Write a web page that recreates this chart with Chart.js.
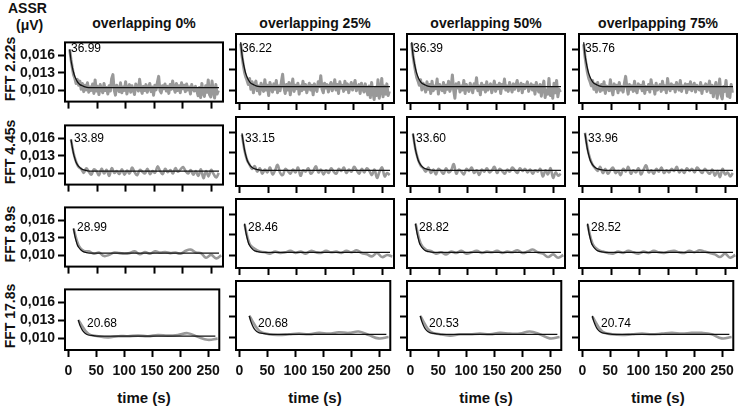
<!DOCTYPE html>
<html>
<head>
<meta charset="utf-8">
<script src="https://cdn.jsdelivr.net/npm/chart.js@4/dist/chart.umd.min.js"></script>
<style>
  body { margin: 0; width: 740px; height: 409px; position: relative; background: #fff; overflow: hidden;
         font-family: "Liberation Sans", Arial, sans-serif; color: #111; }
  .t { position: absolute; font-weight: bold; font-size: 14px; white-space: nowrap; line-height: 16px; }
  .fit { position: absolute; font-size: 12px; white-space: nowrap; line-height: 14px; color: #000; }
  canvas { position: absolute; }
</style>
</head>
<body>
<script>
// column / row headings
const columns = ['overlapping 0%', 'overlapping 25%', 'overlapping 50%', 'overlpapping 75%'];
const rowNames = ['FFT 2.22s', 'FFT 4.45s', 'FFT 8.9s', 'FFT 17.8s'];
const windows = [2.22, 4.45, 8.9, 17.8];          // s between successive ASSR estimates
const fitLabels = [
  ['36.99', '36.22', '36.39', '35.76'],
  ['33.89', '33.15', '33.60', '33.96'],
  ['28.99', '28.46', '28.82', '28.52'],
  ['20.68', '20.68', '20.53', '20.74'],
];
const xTicks = [0, 50, 100, 150, 200, 250];
const yTicks = [0.010, 0.013, 0.016];

// fitted decay curves, [time, µV]
const fitRow1 = [[2.2,0.0170],[4.4,0.0152],[6.7,0.0140],[8.9,0.0131],[11.1,0.0124],[13.3,0.0119],[15.5,0.0115],[17.8,0.0112],[20,0.0110],[24.4,0.0108],[28.9,0.0106],[35.5,0.0105],[44.4,0.0105],[263,0.0105]];
const fitRow2 = [[4.45,0.0158],[6.7,0.0145],[8.9,0.0134],[11.1,0.0126],[13.4,0.0119],[15.6,0.0115],[17.8,0.0112],[22.3,0.0108],[26.7,0.0106],[31.2,0.0105],[40,0.0104],[263,0.0104]];
const fitRow3 = [[8.9,0.0146],[11.1,0.0134],[13.4,0.0125],[15.6,0.0118],[17.8,0.0114],[22.3,0.0109],[26.7,0.0106],[31.2,0.0105],[40,0.0104],[263,0.0104]];
const fitRow4 = [[17.8,0.0131],[20,0.0124],[22.3,0.0119],[24.5,0.0115],[26.7,0.0112],[31.2,0.0108],[35.6,0.0106],[44.5,0.0105],[53.4,0.0104],[263,0.0104]];

// measured ASSR amplitude (µV), one value per FFT window
const r1c1 = [0.0170,0.0153,0.0139,0.0127,0.0121,0.0112,0.0119,0.0109,0.0116,0.0102,
  0.0112,0.0098,0.0109,0.0101,0.0113,0.0097,0.0106,0.0100,0.0111,0.0095,
  0.0118,0.0099,0.0107,0.0093,0.0110,0.0102,0.0096,0.0112,0.0100,0.0105,
  0.0094,0.0108,0.0099,0.0120,0.0127,0.0101,0.0092,0.0109,0.0103,0.0098,
  0.0113,0.0096,0.0106,0.0100,0.0115,0.0094,0.0104,0.0110,0.0097,0.0108,
  0.0101,0.0093,0.0111,0.0105,0.0099,0.0119,0.0102,0.0095,0.0107,0.0100,
  0.0110,0.0097,0.0104,0.0112,0.0098,0.0106,0.0092,0.0109,0.0101,0.0114,
  0.0124,0.0100,0.0096,0.0108,0.0103,0.0111,0.0099,0.0107,0.0095,0.0110,
  0.0102,0.0116,0.0104,0.0097,0.0112,0.0100,0.0108,0.0096,0.0113,0.0103,
  0.0109,0.0098,0.0111,0.0101,0.0106,0.0094,0.0110,0.0103,0.0099,0.0107,
  0.0100,0.0091,0.0105,0.0088,0.0112,0.0095,0.0090,0.0108,0.0097,0.0118,
  0.0093,0.0089,0.0116,0.0098,0.0087,0.0110,0.0094,0.0100];
const r1c2 = [0.0168,0.0150,0.0137,0.0126,0.0119,0.0114,0.0108,0.0117,0.0101,0.0112,
  0.0096,0.0108,0.0113,0.0099,0.0106,0.0094,0.0110,0.0103,0.0098,0.0115,
  0.0100,0.0107,0.0092,0.0111,0.0104,0.0097,0.0109,0.0101,0.0114,0.0096,
  0.0106,0.0099,0.0112,0.0123,0.0103,0.0095,0.0108,0.0100,0.0111,0.0093,
  0.0105,0.0116,0.0098,0.0107,0.0102,0.0110,0.0094,0.0106,0.0099,0.0113,
  0.0101,0.0108,0.0096,0.0104,0.0110,0.0100,0.0107,0.0093,0.0109,0.0102,
  0.0098,0.0112,0.0105,0.0121,0.0101,0.0096,0.0110,0.0103,0.0108,0.0097,
  0.0106,0.0111,0.0099,0.0104,0.0115,0.0100,0.0108,0.0095,0.0112,0.0103,
  0.0107,0.0098,0.0113,0.0101,0.0109,0.0096,0.0105,0.0111,0.0100,0.0106,
  0.0114,0.0099,0.0104,0.0108,0.0095,0.0110,0.0102,0.0097,0.0109,0.0101,
  0.0093,0.0106,0.0089,0.0111,0.0097,0.0086,0.0104,0.0092,0.0115,0.0088,
  0.0099,0.0117,0.0090,0.0106,0.0094,0.0109,0.0092,0.0098];
const r1c3 = [0.0169,0.0151,0.0138,0.0127,0.0118,0.0113,0.0107,0.0115,0.0100,0.0110,
  0.0105,0.0097,0.0112,0.0101,0.0108,0.0095,0.0113,0.0099,0.0106,0.0102,
  0.0116,0.0094,0.0108,0.0103,0.0099,0.0111,0.0096,0.0107,0.0101,0.0113,
  0.0098,0.0104,0.0122,0.0100,0.0088,0.0109,0.0103,0.0111,0.0097,0.0106,
  0.0100,0.0114,0.0095,0.0108,0.0102,0.0098,0.0110,0.0104,0.0096,0.0109,
  0.0103,0.0118,0.0099,0.0106,0.0093,0.0110,0.0101,0.0107,0.0097,0.0112,
  0.0100,0.0105,0.0109,0.0096,0.0104,0.0113,0.0098,0.0107,0.0102,0.0110,
  0.0095,0.0108,0.0103,0.0116,0.0100,0.0106,0.0098,0.0111,0.0104,0.0097,
  0.0109,0.0101,0.0107,0.0114,0.0099,0.0105,0.0110,0.0096,0.0108,0.0102,
  0.0106,0.0112,0.0098,0.0104,0.0109,0.0100,0.0107,0.0094,0.0111,0.0103,
  0.0097,0.0108,0.0091,0.0105,0.0113,0.0089,0.0100,0.0094,0.0117,0.0092,
  0.0103,0.0088,0.0110,0.0096,0.0114,0.0090,0.0101,0.0097];
const r1c4 = [0.0167,0.0149,0.0136,0.0125,0.0117,0.0112,0.0106,0.0114,0.0101,0.0109,
  0.0097,0.0111,0.0103,0.0098,0.0108,0.0100,0.0112,0.0095,0.0106,0.0104,
  0.0099,0.0115,0.0101,0.0093,0.0109,0.0102,0.0107,0.0096,0.0111,0.0100,
  0.0105,0.0097,0.0110,0.0120,0.0104,0.0094,0.0108,0.0101,0.0106,0.0098,
  0.0113,0.0100,0.0096,0.0109,0.0103,0.0107,0.0099,0.0112,0.0095,0.0105,
  0.0101,0.0108,0.0097,0.0115,0.0102,0.0106,0.0094,0.0110,0.0100,0.0104,
  0.0108,0.0098,0.0113,0.0101,0.0106,0.0096,0.0117,0.0103,0.0099,0.0109,
  0.0102,0.0107,0.0097,0.0111,0.0104,0.0100,0.0114,0.0098,0.0106,0.0103,
  0.0109,0.0096,0.0108,0.0101,0.0112,0.0099,0.0105,0.0110,0.0097,0.0107,
  0.0103,0.0100,0.0111,0.0095,0.0106,0.0102,0.0109,0.0098,0.0104,0.0113,
  0.0096,0.0107,0.0090,0.0103,0.0111,0.0088,0.0100,0.0116,0.0093,0.0087,
  0.0105,0.0098,0.0114,0.0091,0.0102,0.0089,0.0108,0.0096];

const r2c1 = [0.0158,0.0135,0.0120,0.0111,0.0108,0.0101,0.0109,0.0103,0.0098,0.0107,
  0.0104,0.0097,0.0108,0.0100,0.0106,0.0096,0.0109,0.0101,0.0104,0.0099,
  0.0107,0.0098,0.0105,0.0100,0.0110,0.0102,0.0097,0.0106,0.0103,0.0100,
  0.0108,0.0099,0.0104,0.0101,0.0112,0.0104,0.0099,0.0108,0.0102,0.0106,
  0.0100,0.0109,0.0103,0.0107,0.0111,0.0104,0.0100,0.0106,0.0098,0.0104,
  0.0096,0.0107,0.0092,0.0104,0.0095,0.0106,0.0099,0.0093,0.0101];
const r2c2 = [0.0156,0.0133,0.0119,0.0112,0.0106,0.0110,0.0102,0.0107,0.0099,0.0105,
  0.0101,0.0108,0.0098,0.0104,0.0112,0.0100,0.0097,0.0106,0.0103,0.0099,
  0.0105,0.0101,0.0108,0.0096,0.0104,0.0102,0.0107,0.0099,0.0103,0.0110,
  0.0101,0.0105,0.0098,0.0104,0.0100,0.0107,0.0102,0.0099,0.0106,0.0103,
  0.0108,0.0100,0.0105,0.0102,0.0109,0.0104,0.0099,0.0106,0.0101,0.0107,
  0.0103,0.0097,0.0105,0.0093,0.0102,0.0108,0.0095,0.0100,0.0097];
const r2c3 = [0.0157,0.0134,0.0120,0.0111,0.0107,0.0102,0.0108,0.0100,0.0105,0.0098,
  0.0106,0.0103,0.0099,0.0107,0.0101,0.0104,0.0113,0.0099,0.0105,0.0102,
  0.0098,0.0106,0.0103,0.0108,0.0100,0.0104,0.0097,0.0105,0.0102,0.0107,
  0.0101,0.0104,0.0109,0.0100,0.0106,0.0103,0.0099,0.0105,0.0102,0.0108,
  0.0104,0.0100,0.0107,0.0103,0.0106,0.0101,0.0105,0.0099,0.0104,0.0102,
  0.0106,0.0095,0.0104,0.0098,0.0107,0.0093,0.0101,0.0096,0.0099];
const r2c4 = [0.0159,0.0136,0.0121,0.0112,0.0107,0.0103,0.0109,0.0100,0.0106,0.0099,
  0.0104,0.0108,0.0100,0.0103,0.0097,0.0106,0.0102,0.0109,0.0099,0.0104,
  0.0101,0.0107,0.0098,0.0105,0.0111,0.0101,0.0104,0.0099,0.0106,0.0102,
  0.0108,0.0100,0.0104,0.0101,0.0106,0.0103,0.0109,0.0101,0.0105,0.0100,
  0.0107,0.0103,0.0106,0.0101,0.0108,0.0104,0.0100,0.0106,0.0102,0.0099,
  0.0105,0.0096,0.0103,0.0094,0.0106,0.0098,0.0101,0.0095,0.0100];

const r3c1 = [0.0146,0.0117,0.0108,0.0107,0.0103,0.0105,0.0099,0.0101,0.0105,0.0104,
  0.0103,0.0104,0.0107,0.0102,0.0106,0.0103,0.0107,0.0105,0.0106,0.0104,
  0.0105,0.0103,0.0108,0.0110,0.0105,0.0104,0.0096,0.0101,0.0095,0.0100];
const r3c2 = [0.0145,0.0116,0.0109,0.0105,0.0104,0.0102,0.0105,0.0103,0.0104,0.0106,
  0.0103,0.0105,0.0102,0.0106,0.0104,0.0103,0.0106,0.0104,0.0105,0.0103,
  0.0106,0.0104,0.0107,0.0103,0.0101,0.0098,0.0103,0.0097,0.0100,0.0098];
const r3c3 = [0.0146,0.0117,0.0108,0.0106,0.0102,0.0104,0.0101,0.0105,0.0103,0.0106,
  0.0102,0.0104,0.0106,0.0103,0.0105,0.0104,0.0106,0.0103,0.0105,0.0104,
  0.0107,0.0103,0.0105,0.0108,0.0104,0.0102,0.0097,0.0101,0.0096,0.0100];
const r3c4 = [0.0145,0.0116,0.0108,0.0105,0.0103,0.0102,0.0105,0.0103,0.0106,0.0104,
  0.0102,0.0105,0.0103,0.0106,0.0104,0.0103,0.0105,0.0106,0.0104,0.0103,
  0.0106,0.0104,0.0107,0.0105,0.0103,0.0101,0.0097,0.0102,0.0096,0.0100];

const r4c1 = [0.0131,0.0108,0.0104,0.0102,0.0104,0.0104,0.0105,0.0104,0.0106,0.0105,0.0106,0.0109,0.0103,0.0098,0.0100];
const r4c2 = [0.0131,0.0109,0.0104,0.0103,0.0104,0.0105,0.0104,0.0106,0.0105,0.0107,0.0106,0.0108,0.0103,0.0098,0.0100];
const r4c3 = [0.0131,0.0108,0.0104,0.0102,0.0104,0.0104,0.0105,0.0104,0.0106,0.0105,0.0105,0.0108,0.0104,0.0098,0.0100];
const r4c4 = [0.0130,0.0108,0.0104,0.0103,0.0104,0.0105,0.0104,0.0105,0.0106,0.0105,0.0106,0.0106,0.0104,0.0098,0.0100];

const assr = [
  [r1c1, r1c2, r1c3, r1c4],
  [r2c1, r2c2, r2c3, r2c4],
  [r3c1, r3c2, r3c3, r3c4],
  [r4c1, r4c2, r4c3, r4c4],
];
const fits = [fitRow1, fitRow2, fitRow3, fitRow4];

// page layout
const boxLeft = [65, 236, 407, 579];
const boxTop = [34, 117, 199, 281];
const boxW = 158;
const boxH = 69;
const labelDx = [6, 9, 12, 22];
const labelDy = [14, 21, 28, 42];
const tickFont = { family: 'Liberation Sans', weight: 'bold', size: 14 };

function addText(cls, text, css) {
  const d = document.createElement('div');
  d.className = cls;
  d.textContent = text;
  Object.assign(d.style, css);
  document.body.appendChild(d);
  return d;
}

const frame = {
  id: 'frame',
  afterDraw(chart) {
    const { ctx, chartArea: a } = chart;
    ctx.save();
    ctx.strokeStyle = '#000';
    ctx.lineWidth = 2;
    ctx.strokeRect(a.left, a.top, a.right - a.left, a.bottom - a.top);
    ctx.restore();
  },
};

addText('t', 'ASSR', { left: '8px', top: '0px' });
addText('t', '(\u03bcV)', { left: '16px', top: '17px' });

columns.forEach((name, c) => {
  addText('t', name, { left: (boxLeft[c] + boxW / 2 - 80) + 'px', top: '15px', width: '160px', textAlign: 'center' });
  addText('t', 'time (s)', { left: (boxLeft[c] + boxW / 2 - 60) + 'px', top: '390px', width: '120px', textAlign: 'center', fontSize: '15px' });
});

rowNames.forEach((name, r) => {
  addText('t', name, { left: '-40px', top: (boxTop[r] + boxH / 2 - 8) + 'px', width: '100px', textAlign: 'center', transform: 'rotate(-90deg)' });
});

for (let r = 0; r < 4; r++) {
  for (let c = 0; c < 4; c++) {
    const axW = c === 0 ? 65 : 12;
    const axH = r === 3 ? 32 : 10;
    const cv = document.createElement('canvas');
    cv.width = axW + boxW + 3;
    cv.height = 3 + boxH + axH;
    cv.style.left = (boxLeft[c] - axW) + 'px';
    cv.style.top = (boxTop[r] - 3) + 'px';
    document.body.appendChild(cv);

    const series = assr[r][c].map((v, i) => ({ x: (i + 1) * windows[r], y: v }));
    const fit = fits[r].map(([x, y]) => ({ x, y }));

    new Chart(cv, {
      type: 'line',
      data: {
        datasets: [
          { data: fit, borderColor: '#111', borderWidth: 1.3, pointRadius: 0, cubicInterpolationMode: 'monotone' },
          { data: series, borderColor: '#999', borderWidth: r === 0 ? 3 : 2.6, pointRadius: 0,
            tension: r === 0 ? 0 : 0.4, borderJoinStyle: 'round' },
        ],
      },
      options: {
        responsive: false,
        animation: false,
        layout: { padding: { top: 3, right: 3, left: 0, bottom: 0 } },
        plugins: { legend: { display: false }, tooltip: { enabled: false } },
        scales: {
          x: {
            type: 'linear', min: -6, max: 270,
            afterBuildTicks: (s) => { s.ticks = xTicks.map((v) => ({ value: v })); },
            afterFit: (s) => { s.height = axH; },
            grid: { drawOnChartArea: false, tickLength: 7, tickWidth: 2, tickColor: '#000' },
            border: { display: false },
            ticks: { display: r === 3, font: tickFont, color: '#111', padding: 6, maxRotation: 0 },
          },
          y: {
            min: 0.0081, max: 0.0182,
            afterBuildTicks: (s) => { s.ticks = yTicks.map((v) => ({ value: v })); },
            afterFit: (s) => { s.width = axW; },
            grid: { drawOnChartArea: false, tickLength: 7, tickWidth: 2, tickColor: '#000' },
            border: { display: false },
            ticks: { display: c === 0, font: tickFont, color: '#111', padding: 3,
                     callback: (v) => v.toFixed(3).replace('.', ',') },
          },
        },
      },
      plugins: [frame],
    });

    addText('fit', fitLabels[r][c], { left: (boxLeft[c] + labelDx[r]) + 'px', top: (boxTop[r] + labelDy[r] - 7) + 'px' });
  }
}
</script>
</body>
</html>
